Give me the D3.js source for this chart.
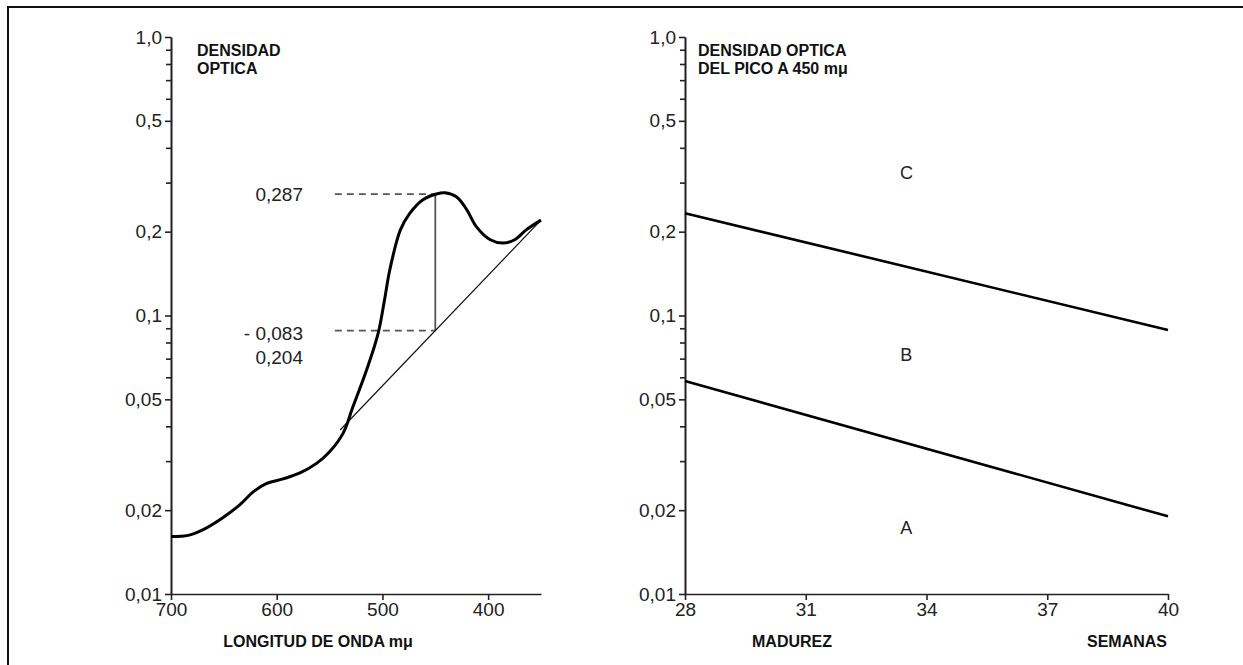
<!DOCTYPE html>
<html>
<head>
<meta charset="utf-8">
<script src="https://cdn.jsdelivr.net/npm/d3@7"></script>
<style>
  body { margin: 0; background: #fff; }
  svg { font-family: "Liberation Sans", Arial, sans-serif; }
  .axis path, .axis line { stroke: #222; stroke-width: 1.6; }
  .axis text { font-size: 19px; fill: #222; font-family: "Liberation Sans", Arial, sans-serif; }
  .title { font-size: 16px; font-weight: bold; fill: #111; }
  .note { font-size: 19px; fill: #222; }
</style>
</head>
<body>
<div id="chart-area"></div>
<script>
// y ticks shared by both panels
const majorTicks = [1, 0.5, 0.2, 0.1, 0.05, 0.02, 0.01];
const majorLabels = ["1,0", "0,5", "0,2", "0,1", "0,05", "0,02", "0,01"];
const minorTicks = [0.9, 0.8, 0.7, 0.6, 0.4, 0.3, 0.09, 0.08, 0.07, 0.06, 0.04, 0.03];

// left panel: absorption spectrum
const wavelengthTicks = [700, 600, 500, 400];
const wavelength = [700, 685, 670, 651, 635, 622, 610, 594, 578, 562, 550, 537, 528, 515, 504,
  498, 493, 483, 474, 462, 449, 441, 430, 420, 411, 398, 386, 375, 364, 350];
const density = [0.0161, 0.0162, 0.017, 0.0188, 0.0209, 0.0233, 0.0249, 0.0259, 0.0272, 0.0295,
  0.0324, 0.0379, 0.0469, 0.0637, 0.0865, 0.114, 0.146, 0.203, 0.233, 0.26, 0.273, 0.276,
  0.267, 0.239, 0.208, 0.187, 0.182, 0.187, 0.203, 0.22];
const tangentW = [540, 350];
const tangentD = [0.0388, 0.22];
const peakW = 450;
const peakD = 0.273;
const baseD = 0.0883;
const dashFromW = 545;
const peakLabels = ["0,287", "- 0,083", "0,204"];

// right panel: peak density vs. maturity
const weekTicks = [28, 31, 34, 37, 40];
const weeks = [28, 40];
const upperLine = [0.233, 0.0887];
const lowerLine = [0.0582, 0.019];
const zoneLabels = ["C", "B", "A"];
const zoneWeek = 33.5;
const zoneD = [0.328, 0.0727, 0.0174];

const chartSize = { width: 1243, height: 665 };

const svg = d3.select("#chart-area")
  .append("svg")
  .attr("width", chartSize.width)
  .attr("height", chartSize.height);

// frame (right and bottom edges fall outside the picture)
svg.append("rect")
  .attr("x", 8).attr("y", 7)
  .attr("width", 1260).attr("height", 700)
  .attr("fill", "none").attr("stroke", "#111").attr("stroke-width", 2);

const y = d3.scaleLog().domain([0.01, 1]).range([594, 37]);

const drawYAxis = function(g) {
  g.append("g").attr("class", "axis")
    .call(d3.axisLeft(y).tickValues(majorTicks)
      .tickFormat((d, i) => majorLabels[i]).tickSize(6).tickSizeOuter(0));
  g.append("g").attr("class", "axis")
    .call(d3.axisLeft(y).tickValues(minorTicks).tickFormat("").tickSize(5).tickSizeOuter(0));
};

// ---- left panel
const xL = d3.scaleLinear().domain([700, 350]).range([171, 541]);
const left = svg.append("g");

left.append("g").attr("class", "axis")
  .attr("transform", `translate(0,${y.range()[0]})`)
  .call(d3.axisBottom(xL).tickValues(wavelengthTicks).tickSize(6).tickSizeOuter(0));
left.append("g").attr("transform", `translate(${xL(700)},0)`).call(drawYAxis);

left.append("text").attr("class", "title").attr("x", 197).attr("y", 56).text("DENSIDAD");
left.append("text").attr("class", "title").attr("x", 197).attr("y", 74).text("OPTICA");
left.append("text").attr("class", "title")
  .attr("x", 318).attr("y", 647).attr("text-anchor", "middle").text("LONGITUD DE ONDA mμ");

// dashed guides and peak height
[peakD, baseD].forEach(v => {
  left.append("line")
    .attr("x1", xL(dashFromW)).attr("x2", xL(peakW))
    .attr("y1", y(v)).attr("y2", y(v))
    .attr("stroke", "#555").attr("stroke-width", 1.7).attr("stroke-dasharray", "7,5");
});
left.append("line")
  .attr("x1", xL(peakW)).attr("x2", xL(peakW))
  .attr("y1", y(baseD)).attr("y2", y(peakD))
  .attr("stroke", "#555").attr("stroke-width", 1.8);

const tangent = d3.line().x(d => xL(d[0])).y(d => y(d[1]));
left.append("path")
  .attr("d", tangent(d3.zip(tangentW, tangentD)))
  .attr("fill", "none").attr("stroke", "#111").attr("stroke-width", 1.2);

const spectrum = d3.line()
  .x(d => xL(d[0])).y(d => y(d[1]))
  .curve(d3.curveCatmullRom.alpha(0.5));
left.append("path")
  .attr("d", spectrum(d3.zip(wavelength, density)))
  .attr("fill", "none").attr("stroke", "#000").attr("stroke-width", 3);

left.append("text").attr("class", "note").attr("text-anchor", "end")
  .attr("x", 303).attr("y", y(peakD) + 7).text(peakLabels[0]);
left.append("text").attr("class", "note").attr("text-anchor", "end")
  .attr("x", 303).attr("y", y(baseD) + 9).text(peakLabels[1]);
left.append("text").attr("class", "note").attr("text-anchor", "end")
  .attr("x", 303).attr("y", y(baseD) + 33).text(peakLabels[2]);

// ---- right panel
const xR = d3.scaleLinear().domain([28, 40]).range([685, 1168]);
const right = svg.append("g");

right.append("g").attr("class", "axis")
  .attr("transform", `translate(0,${y.range()[0]})`)
  .call(d3.axisBottom(xR).tickValues(weekTicks).tickSize(6).tickSizeOuter(0));
right.append("g").attr("transform", `translate(${xR(28)},0)`).call(drawYAxis);

right.append("text").attr("class", "title").attr("x", 698).attr("y", 56).text("DENSIDAD OPTICA");
right.append("text").attr("class", "title").attr("x", 698).attr("y", 74).text("DEL PICO A 450 mμ");
right.append("text").attr("class", "title").attr("x", 752).attr("y", 647).text("MADUREZ");
right.append("text").attr("class", "title")
  .attr("x", 1167).attr("y", 647).attr("text-anchor", "end").text("SEMANAS");

const boundary = d3.line().x(d => xR(d[0])).y(d => y(d[1]));
[upperLine, lowerLine].forEach(vals => {
  right.append("path")
    .attr("d", boundary(d3.zip(weeks, vals)))
    .attr("fill", "none").attr("stroke", "#000").attr("stroke-width", 2.6);
});

right.selectAll(".zone")
  .data(zoneLabels)
  .join("text")
  .attr("class", "note")
  .attr("x", xR(zoneWeek)).attr("y", (d, i) => y(zoneD[i]) + 7)
  .attr("text-anchor", "middle")
  .style("font-size", "18px")
  .text(d => d);
</script>
</body>
</html>
